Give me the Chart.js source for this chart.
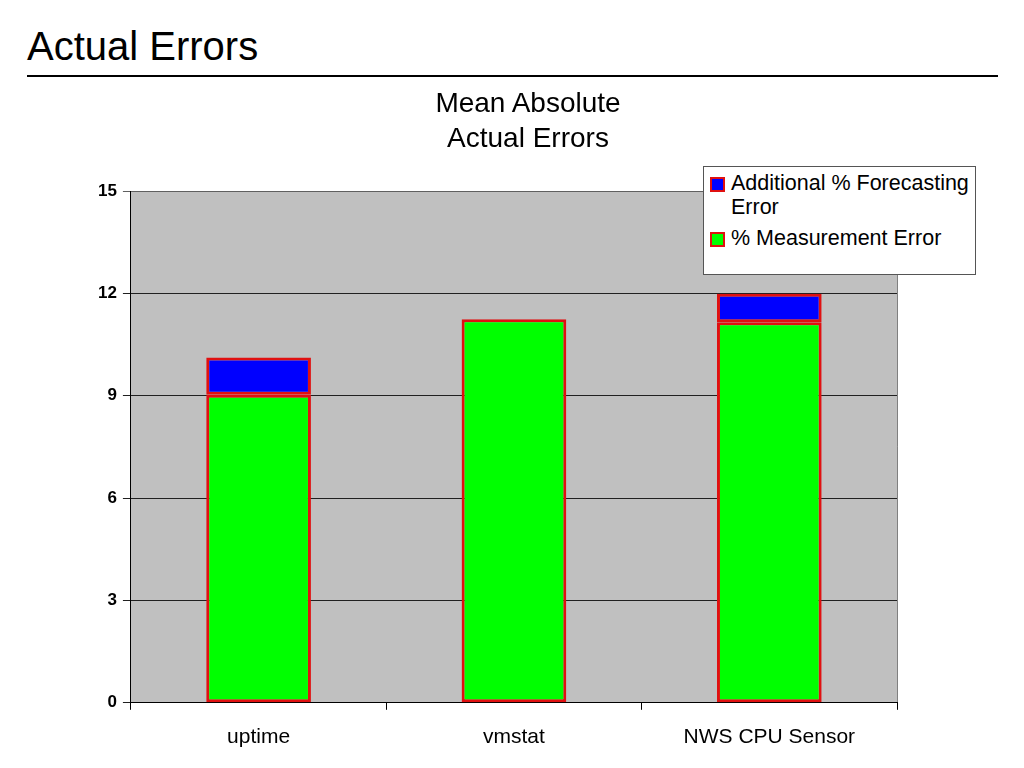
<!DOCTYPE html>
<html lang="en">
<head>
<meta charset="UTF-8" />
<title>Actual Errors</title>
<script src="https://cdn.jsdelivr.net/npm/chart.js@4.4.0/dist/chart.umd.min.js"></script>
<style>
  body { margin: 0; background: #fff; font-family: "Liberation Sans", Arial, sans-serif; }
  #page { position: relative; width: 1024px; height: 768px; overflow: hidden; }
  #heading { position: absolute; left: 27px; top: 24px; font-size: 40px; color: #000; }
  #rule { position: absolute; left: 27px; top: 75px; width: 971px; height: 0; border-top: 2px solid #000; }
  #ctitle { position: absolute; left: 328px; width: 400px; top: 85px; text-align: center; font-size: 28px; line-height: 35px; color: #000; }
  #chart { position: absolute; left: 0; top: 0; }
  #legend { position: absolute; left: 703px; top: 166px; width: 271px; height: 107px; background: #fff; border: 1px solid #555; font-size: 21.5px; color: #000; }
  .item { position: relative; padding-left: 27px; line-height: 24px; }
  .sw { position: absolute; left: 6px; top: 6px; width: 11px; height: 11px; border: 2px solid #e01010; }
</style>
</head>
<body>
<div id="page">
  <div id="heading">Actual Errors</div>
  <div id="rule"></div>
  <canvas id="chart" width="1024" height="768"></canvas>
  <div id="ctitle">Mean Absolute<br>Actual Errors</div>
  <div id="legend">
    <div class="item" style="margin-top:4px"><span class="sw" style="background:#0000ff"></span>Additional % Forecasting Error</div>
    <div class="item" style="margin-top:7px"><span class="sw" style="background:#00ff00"></span>% Measurement Error</div>
  </div>
</div>
<script>
  var categories = ["uptime", "vmstat", "NWS CPU Sensor"];
  var measurementError = [9.03, 11.24, 11.15];
  var forecastingError = [1.09, 0, 0.84];
  var yTicks = [0, 3, 6, 9, 12, 15];

  // grey plot background
  var plotBg = {
    id: "plotBg",
    beforeDraw: function(chart) {
      var a = chart.chartArea, ctx = chart.ctx;
      ctx.save();
      ctx.fillStyle = "#c0c0c0";
      ctx.fillRect(a.left, a.top, a.right - a.left, a.bottom - a.top);
      ctx.strokeStyle = "#808080";
      ctx.lineWidth = 1;
      ctx.beginPath();
      ctx.moveTo(a.right + 0.5, a.top);
      ctx.lineTo(a.right + 0.5, a.bottom);
      ctx.stroke();
      ctx.restore();
    }
  };

  new Chart(document.getElementById("chart"), {
    type: "bar",
    data: {
      labels: categories,
      datasets: [{
        label: "% Measurement Error",
        data: measurementError,
        backgroundColor: "#00ff00",
        borderColor: "#e01010",
        borderWidth: 3,
        borderSkipped: false
      }, {
        label: "Additional % Forecasting Error",
        data: forecastingError,
        backgroundColor: "#0000ff",
        borderColor: "#e01010",
        borderWidth: 3,
        borderSkipped: false
      }]
    },
    options: {
      responsive: false,
      animation: false,
      barPercentage: 0.41,
      categoryPercentage: 1,
      layout: { padding: { left: 92, right: 127, top: 191, bottom: 3 } },
      plugins: { legend: { display: false }, tooltip: { enabled: false } },
      scales: {
        x: {
          stacked: true,
          grid: { drawOnChartArea: false, drawTicks: true, tickLength: 7, color: "#000" },
          border: { color: "#000" },
          ticks: { color: "#000", font: { family: "Liberation Sans", size: 21 }, padding: 15 }
        },
        y: {
          stacked: true,
          min: 0,
          max: 15,
          afterBuildTicks: function(axis) { axis.ticks = yTicks.map(function(v) { return { value: v }; }); },
          grid: { color: function(c) { return c.tick.value === 15 ? "#606060" : "#202020"; }, tickLength: 8 },
          border: { color: "#000" },
          ticks: { color: "#000", font: { family: "Liberation Sans", size: 17, weight: "bold" }, padding: 6 }
        }
      }
    },
    plugins: [plotBg]
  });
</script>
</body>
</html>
